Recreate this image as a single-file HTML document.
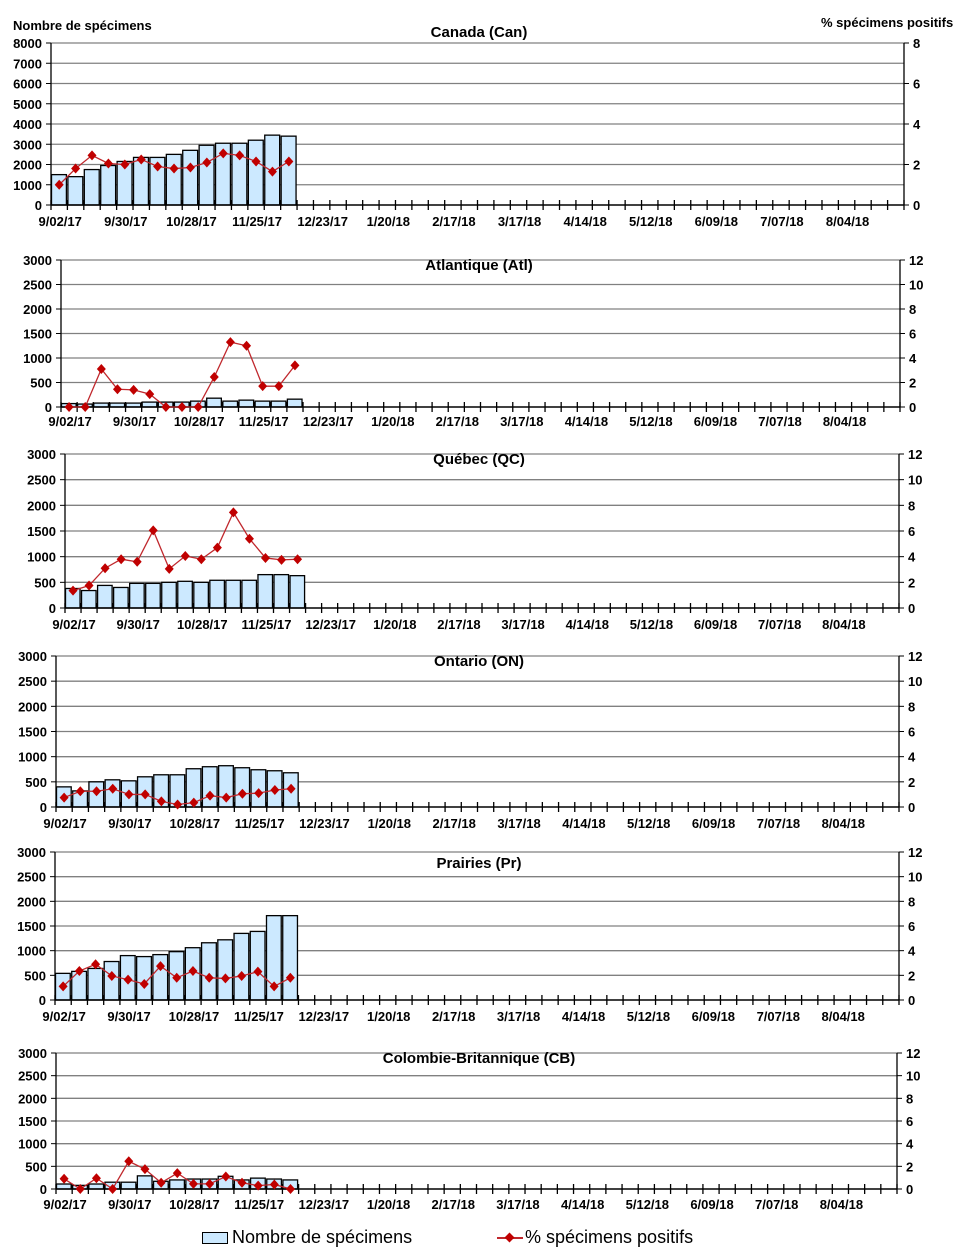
<!DOCTYPE html>
<html><head><meta charset="utf-8">
<style>
body{margin:0;background:#fff;}
svg{display:block;font-family:"Liberation Sans",Arial,sans-serif;}
</style></head>
<body>
<svg id="c" width="959" height="1260" viewBox="0 0 959 1260"></svg>
<script>
const categoryCount = 52;
const xTickLabels = ["9/02/17","9/30/17","10/28/17","11/25/17","12/23/17","1/20/18","2/17/18","3/17/18","4/14/18","5/12/18","6/09/18","7/07/18","8/04/18"];
const canadaCounts = [1500,1400,1750,1950,2150,2350,2350,2500,2700,2950,3050,3050,3200,3450,3400];
const canadaPct = [1.0,1.8,2.45,2.05,2.0,2.25,1.9,1.8,1.85,2.1,2.55,2.45,2.15,1.65,2.15];
const atlCounts = [70,60,80,80,80,100,100,100,120,180,120,140,120,120,160];
const atlPct = [0,0,3.1,1.45,1.4,1.05,0,0,0,2.45,5.3,5.0,1.7,1.7,3.4];
const qcCounts = [380,340,440,400,480,480,500,520,500,540,540,540,650,650,630];
const qcPct = [1.35,1.75,3.1,3.8,3.6,6.05,3.05,4.05,3.8,4.7,7.45,5.4,3.9,3.75,3.8];
const onCounts = [400,320,500,540,520,600,640,640,760,800,820,780,740,720,680];
const onPct = [0.75,1.25,1.25,1.45,1.0,1.0,0.45,0.2,0.35,0.9,0.75,1.05,1.1,1.35,1.45];
const prCounts = [540,580,640,780,900,880,920,980,1060,1160,1220,1350,1390,1710,1710];
const prPct = [1.1,2.35,2.9,1.95,1.65,1.3,2.75,1.8,2.35,1.8,1.75,1.95,2.3,1.1,1.8];
const cbCounts = [110,80,110,150,150,290,170,200,220,220,280,200,240,220,200];
const cbPct = [0.9,0,0.95,0,2.45,1.75,0.55,1.4,0.45,0.45,1.1,0.55,0.3,0.4,0];

const panels = [
 {id:"canada",title:"Canada (Can)",counts:canadaCounts,pct:canadaPct,L:51,R:904,T:43,B:205,lmax:8000,lstep:1000,rmax:8,rstep:2,ty:37,xy:226},
 {id:"atlantique",title:"Atlantique (Atl)",counts:atlCounts,pct:atlPct,L:61,R:900,T:260,B:407,lmax:3000,lstep:500,rmax:12,rstep:2,ty:270,xy:426},
 {id:"quebec",title:"Québec (QC)",counts:qcCounts,pct:qcPct,L:65,R:899,T:454,B:608,lmax:3000,lstep:500,rmax:12,rstep:2,ty:464,xy:629},
 {id:"ontario",title:"Ontario (ON)",counts:onCounts,pct:onPct,L:56,R:899,T:656,B:807,lmax:3000,lstep:500,rmax:12,rstep:2,ty:666,xy:828},
 {id:"prairies",title:"Prairies (Pr)",counts:prCounts,pct:prPct,L:55,R:899,T:852,B:1000,lmax:3000,lstep:500,rmax:12,rstep:2,ty:868,xy:1021},
 {id:"colombie-britannique",title:"Colombie-Britannique (CB)",counts:cbCounts,pct:cbPct,L:56,R:897,T:1053,B:1189,lmax:3000,lstep:500,rmax:12,rstep:2,ty:1063,xy:1209}
];
const NS="http://www.w3.org/2000/svg";
const svg=document.getElementById('c');
function mk(tag,attrs,parent,text){const e=document.createElementNS(NS,tag);for(const k in attrs)e.setAttribute(k,attrs[k]);if(text!==undefined)e.textContent=text;(parent||svg).appendChild(e);return e;}

panels.forEach(p=>{
  const g=mk('g',{});
  
  
  const cw=(p.R-p.L)/categoryCount;
  const x=i=>p.L+cw*i;
  const yl=v=>p.B-(v/p.lmax)*(p.B-p.T);
  const yr=v=>p.B-(v/p.rmax)*(p.B-p.T);
  for(let v=p.lstep;v<=p.lmax;v+=p.lstep){
    const gl=mk('line',{x1:p.L,x2:p.R,y1:yl(v),y2:yl(v),stroke:'#808080','stroke-width':1.3},g);
    
    
  }
  for(let v=0;v<=p.lmax;v+=p.lstep){
    mk('line',{x1:p.L-5,x2:p.L,y1:yl(v),y2:yl(v),stroke:'#000'},g);
    const t=mk('text',{x:p.L-9,y:yl(v)+5,'text-anchor':'end','font-size':13,'font-weight':'bold'},g,String(v));
    
    
  }
  for(let v=0;v<=p.rmax;v+=p.rstep){
    mk('line',{x1:p.R,x2:p.R+5,y1:yr(v),y2:yr(v),stroke:'#000'},g);
    const t=mk('text',{x:p.R+9,y:yr(v)+5,'font-size':13,'font-weight':'bold'},g,String(v));
    
    
  }
  p.counts.forEach((v,i)=>{
    const b=mk('rect',{x:x(i)+0.5,y:yl(v),width:cw-1.5,height:p.B-yl(v),fill:'#cce9ff',stroke:'#000','stroke-width':1.3},g);
    
    
  });
  mk('line',{x1:p.L,x2:p.L,y1:p.T,y2:p.B,stroke:'#000','stroke-width':1.3},g);
  mk('line',{x1:p.R,x2:p.R,y1:p.T,y2:p.B,stroke:'#000','stroke-width':1.3},g);
  mk('line',{x1:p.L,x2:p.R,y1:p.B,y2:p.B,stroke:'#000','stroke-width':1.5},g);
  for(let i=0;i<=categoryCount;i++) mk('line',{x1:x(i),x2:x(i),y1:p.B-5,y2:p.B+5,stroke:'#000','stroke-width':1.3},g);
  xTickLabels.forEach((lab,k)=>{
    const t=mk('text',{x:x(k*4)+cw/2+1,y:p.xy,'text-anchor':'middle','font-size':13,'font-weight':'bold'},g,lab);
    
    
  });
  const pts=p.pct.map((v,i)=>[x(i)+cw/2,yr(v)]);
  const ln=mk('polyline',{points:pts.map(q=>q.join(',')).join(' '),fill:'none',stroke:'#c0282d','stroke-width':1.3},g);
  
  
  pts.forEach(q=>{
    const m=mk('polygon',{points:`${q[0]},${q[1]-5} ${q[0]+4.5},${q[1]} ${q[0]},${q[1]+5} ${q[0]-4.5},${q[1]}`,fill:'#c00000'},g);
    
    
  });
  const tt=mk('text',{x:479,y:p.ty,'text-anchor':'middle','font-size':15,'font-weight':'bold'},g,p.title);
  
  
});
</script>
<div style="position:absolute;left:0;top:0;width:959px;height:1260px;pointer-events:none;font-family:'Liberation Sans',Arial,sans-serif;">
  <div style="position:absolute;left:13px;top:18px;font-size:13px;font-weight:bold;">Nombre de spécimens</div>
  <div style="position:absolute;left:821px;top:15px;font-size:13px;font-weight:bold;">% spécimens positifs</div>
  <div style="position:absolute;left:202px;top:1227px;font-size:18px;">
    <span style="display:inline-block;width:24px;height:10px;background:#cce9ff;border:1px solid #000;vertical-align:middle;margin-right:4px;"></span>Nombre de spécimens</div>
  <div style="position:absolute;left:497px;top:1227px;font-size:18px;">
    <span style="display:inline-block;position:relative;width:26px;height:12px;vertical-align:middle;margin-right:2px;"><span style="position:absolute;left:0;top:5px;width:26px;height:2px;background:#c0282d;"></span><span style="position:absolute;left:9px;top:2px;width:7px;height:7px;background:#c00000;transform:rotate(45deg);"></span></span>% spécimens positifs</div>
</div>
</body></html>
